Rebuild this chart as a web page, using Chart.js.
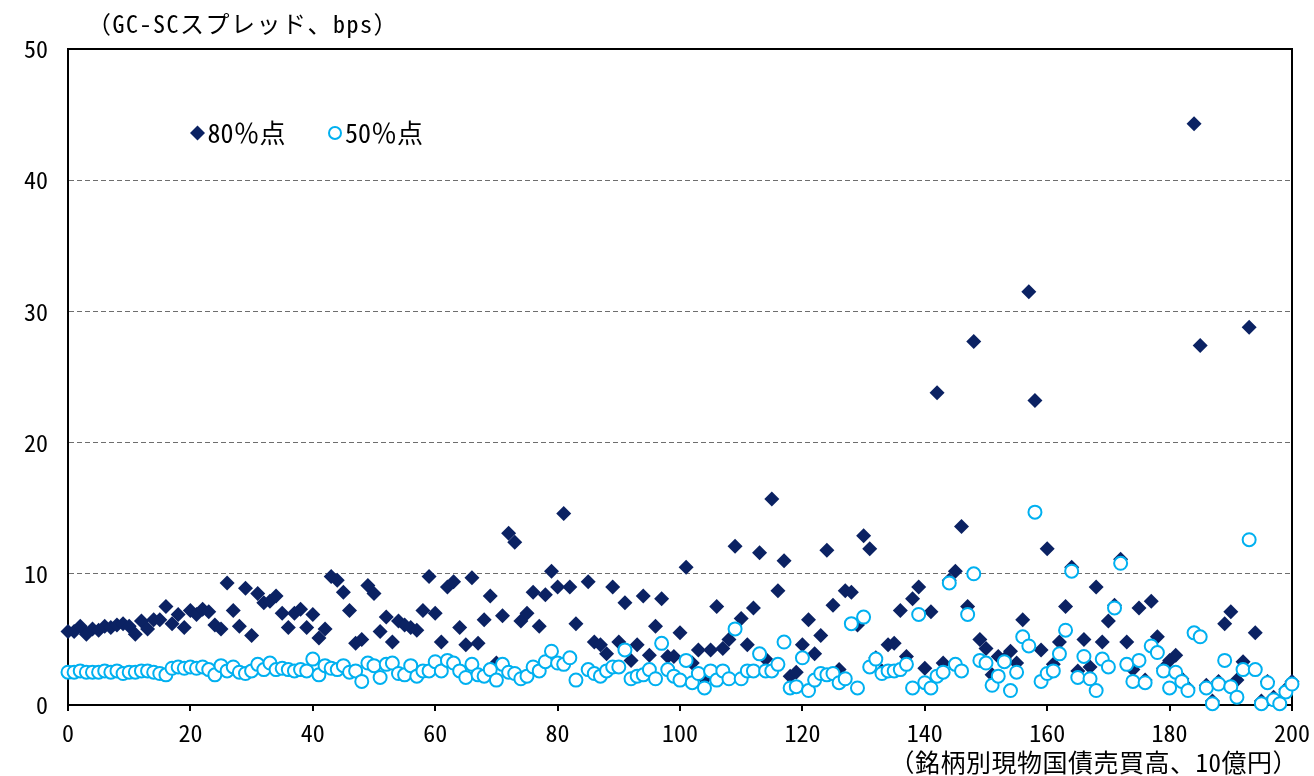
<!DOCTYPE html>
<html lang="ja">
<head>
<meta charset="utf-8">
<title>GC-SCスプレッドと銘柄別売買高</title>
<script src="https://cdn.jsdelivr.net/npm/chart.js"></script>
<style>
  html, body { margin: 0; padding: 0; background: #fff; }
  #wrap { width: 1314px; height: 776px; }
</style>
</head>
<body>
<div id="wrap"><canvas id="spread-chart" width="1314" height="776"></canvas></div>
<script>
// 銘柄別現物国債売買高（10億円）
var volume = [
  0, 1, 2, 3, 4, 5, 6, 7, 8, 9, 10, 11, 12, 13, 14, 15, 16, 17, 18, 19,
  20, 21, 22, 23, 24, 25, 26, 27, 28, 29, 30, 31, 32, 33, 34, 35, 36, 37, 38, 39,
  40, 41, 42, 43, 44, 45, 46, 47, 48, 49, 50, 51, 52, 53, 54, 55, 56, 57, 58, 59,
  60, 61, 62, 63, 64, 65, 66, 67, 68, 69, 70, 71, 72, 73, 74, 75, 76, 77, 78, 79,
  80, 81, 82, 83, 84, 85, 86, 87, 88, 89, 90, 91, 92, 93, 94, 95, 96, 97, 98, 99,
  100, 101, 102, 103, 104, 105, 106, 107, 108, 109, 110, 111, 112, 113, 114, 115, 116, 117, 118, 119,
  120, 121, 122, 123, 124, 125, 126, 127, 128, 129, 130, 131, 132, 133, 134, 135, 136, 137, 138, 139,
  140, 141, 142, 143, 144, 145, 146, 147, 148, 149, 150, 151, 152, 153, 154, 155, 156, 157, 158, 159,
  160, 161, 162, 163, 164, 165, 166, 167, 168, 169, 170, 171, 172, 173, 174, 175, 176, 177, 178, 179,
  180, 181, 182, 183, 184, 185, 186, 187, 188, 189, 190, 191, 192, 193, 194, 195, 196, 197, 198, 199,
  200
];

// 80%点 (bps)
var p80 = [
  5.6, 5.6, 6.0, 5.4, 5.8, 5.7, 6.0, 5.9, 6.1, 6.2,
  6.0, 5.4, 6.4, 5.8, 6.5, 6.5, 7.5, 6.2, 6.9, 5.9,
  7.2, 6.9, 7.3, 7.1, 6.1, 5.8, 9.3, 7.2, 6.0, 8.9,
  5.3, 8.5, 7.8, 7.9, 8.3, 7.0, 5.9, 7.0, 7.3, 5.9,
  6.9, 5.1, 5.8, 9.8, 9.5, 8.6, 7.2, 4.7, 5.0, 9.1,
  8.5, 5.6, 6.7, 4.8, 6.4, 6.1, 5.9, 5.7, 7.2, 9.8,
  7.0, 4.8, 9.0, 9.4, 5.9, 4.6, 9.7, 4.7, 6.5, 8.3,
  3.2, 6.8, 13.1, 12.4, 6.4, 7.0, 8.6, 6.0, 8.4, 10.2,
  9.0, 14.6, 9.0, 6.2, null, 9.4, 4.8, 4.6, 3.9, 9.0,
  4.8, 7.8, 3.4, 4.6, 8.3, 3.8, 6.0, 8.1, 3.7, 3.7,
  5.5, 10.5, 3.2, 4.2, 2.0, 4.2, 7.5, 4.3, 5.0, 12.1,
  6.6, 4.6, 7.4, 11.6, 3.5, 15.7, 8.7, 11.0, 2.2, 2.5,
  4.6, 6.5, 3.9, 5.3, 11.8, 7.6, 2.7, 8.7, 8.6, 6.1,
  12.9, 11.9, 3.6, 2.6, 4.6, 4.7, 7.2, 3.7, 8.1, 9.0,
  2.8, 7.1, 23.8, 3.2, 9.5, 10.2, 13.6, 7.5, 27.7, 5.0,
  4.3, 2.3, 3.7, 3.5, 4.1, 3.2, 6.5, 31.5, 23.2, 4.2,
  11.9, 3.1, 4.8, 7.5, 10.5, 2.6, 5.0, 2.9, 9.0, 4.8,
  6.4, 7.6, 11.1, 4.8, 2.7, 7.4, 1.9, 7.9, 5.2, 2.8,
  3.4, 3.8, 2.0, 1.3, 44.3, 27.4, 1.5, 0.3, 1.8, 6.2,
  7.1, 1.9, 3.3, 28.8, 5.5, 0.3, 1.8, 0.6, 0.2, 1.2,
  1.8
];

// 50%点 (bps)
var p50 = [
  2.5, 2.5, 2.6, 2.5, 2.5, 2.5, 2.6, 2.5, 2.6, 2.4,
  2.5, 2.5, 2.6, 2.6, 2.5, 2.4, 2.3, 2.8, 2.9, 2.8,
  2.9, 2.8, 2.9, 2.7, 2.3, 3.0, 2.6, 2.9, 2.5, 2.4,
  2.6, 3.1, 2.7, 3.2, 2.7, 2.8, 2.7, 2.6, 2.7, 2.6,
  3.5, 2.3, 3.0, 2.8, 2.7, 3.0, 2.5, 2.6, 1.8, 3.2,
  3.0, 2.1, 3.1, 3.2, 2.4, 2.3, 3.0, 2.2, 2.6, 2.6,
  3.3, 2.6, 3.4, 3.2, 2.6, 2.1, 3.1, 2.3, 2.2, 2.7,
  1.9, 3.1, 2.5, 2.4, 2.0, 2.2, 2.9, 2.6, 3.3, 4.1,
  3.2, 3.1, 3.6, 1.9, null, 2.7, 2.4, 2.2, 2.6, 2.9,
  2.9, 4.2, 2.0, 2.2, 2.3, 2.7, 2.0, 4.7, 2.7, 2.2,
  1.9, 3.4, 1.7, 2.4, 1.3, 2.6, 1.9, 2.6, 2.0, 5.8,
  2.0, 2.6, 2.6, 3.9, 2.6, 2.6, 3.1, 4.8, 1.3, 1.4,
  3.6, 1.1, 1.9, 2.4, 2.3, 2.4, 1.7, 2.0, 6.2, 1.3,
  6.7, 2.9, 3.5, 2.4, 2.6, 2.6, 2.7, 3.1, 1.3, 6.9,
  1.7, 1.3, 2.2, 2.5, 9.3, 3.1, 2.6, 6.9, 10.0, 3.4,
  3.2, 1.5, 2.2, 3.3, 1.1, 2.5, 5.2, 4.5, 14.7, 1.8,
  2.4, 2.6, 3.9, 5.7, 10.2, 2.1, 3.7, 2.0, 1.1, 3.5,
  2.9, 7.4, 10.8, 3.1, 1.8, 3.4, 1.7, 4.5, 4.0, 2.6,
  1.3, 2.5, 1.8, 1.1, 5.5, 5.2, 1.3, 0.1, 1.6, 3.4,
  1.4, 0.6, 2.7, 12.6, 2.7, 0.1, 1.7, 0.4, 0.1, 1.0,
  1.6
];

var seriesNames = ['80％点', '50％点'];
var xTicks = [0, 20, 40, 60, 80, 100, 120, 140, 160, 180, 200];
var yTicks = [0, 10, 20, 30, 40, 50];
var yTitle = '（GC-SCスプレッド、bps）';
var xTitle = '（銘柄別現物国債売買高、10億円）';

var NAVY = '#0b2263';
var SKY = '#00b0f0';
var FONT = '"Noto Sans Mono CJK JP", "Noto Sans CJK JP", "Noto Sans", sans-serif';

function toPoints(values) {
  return volume.map(function(v, i) { return { x: v, y: values[i] }; });
}

// frame around the plot area, axis captions and the in-plot legend
var overlay = {
  id: 'overlay',
  beforeDatasetsDraw: function(chart) {
    var a = chart.chartArea, ctx = chart.ctx;
    ctx.save();
    ctx.strokeStyle = '#000';
    ctx.lineWidth = 2;
    ctx.strokeRect(a.left, a.top, a.right - a.left, a.bottom - a.top);
    ctx.restore();
  },
  afterDraw: function(chart) {
    var a = chart.chartArea, ctx = chart.ctx;
    ctx.save();
    ctx.fillStyle = '#000';
    ctx.textBaseline = 'middle';

    // y caption above the plot, x caption under the tick labels
    ctx.font = '24px ' + FONT;
    ctx.letterSpacing = '1.5px';
    ctx.textAlign = 'left';
    ctx.fillText(yTitle, a.left + 19, a.top - 25);
    ctx.font = '25px ' + FONT;
    ctx.letterSpacing = '0.5px';
    ctx.textAlign = 'right';
    ctx.fillText(xTitle, a.right + 6, a.bottom + 57);
    ctx.letterSpacing = '0px';

    var ly = a.top + 84;
    ctx.font = '26px ' + FONT;
    ctx.textAlign = 'left';
    var dx = a.left + 129.5;
    ctx.fillStyle = NAVY;
    ctx.beginPath();
    ctx.moveTo(dx, ly - 7.5);
    ctx.lineTo(dx + 7.5, ly);
    ctx.lineTo(dx, ly + 7.5);
    ctx.lineTo(dx - 7.5, ly);
    ctx.closePath();
    ctx.fill();
    ctx.fillStyle = '#000';
    ctx.fillText(seriesNames[0], dx + 10, ly);

    var cx = a.left + 267;
    ctx.strokeStyle = SKY;
    ctx.lineWidth = 2;
    ctx.beginPath();
    ctx.arc(cx, ly, 6, 0, Math.PI * 2);
    ctx.stroke();
    ctx.fillText(seriesNames[1], cx + 10, ly);
    ctx.restore();
  }
};

var ctx = document.getElementById('spread-chart').getContext('2d');
var spreadChart = new Chart(ctx, {
  type: 'scatter',
  data: {
    datasets: [{
      label: seriesNames[0],
      data: toPoints(p80),
      pointStyle: 'rectRot',
      pointRadius: 7.5,
      pointBackgroundColor: NAVY,
      pointBorderColor: NAVY,
      pointBorderWidth: 0,
      order: 2,
      clip: false
    }, {
      label: seriesNames[1],
      data: toPoints(p50),
      pointStyle: 'circle',
      pointRadius: 6.5,
      pointBackgroundColor: '#fff',
      pointBorderColor: SKY,
      pointBorderWidth: 2,
      order: 1,
      clip: false
    }]
  },
  options: {
    responsive: false,
    animation: false,
    layout: { padding: { top: 49, right: 22, left: 0, bottom: 0 } },
    plugins: {
      legend: { display: false },
      tooltip: { enabled: false }
    },
    scales: {
      x: {
        type: 'linear',
        min: 0,
        max: 200,
        afterBuildTicks: function(s) { s.ticks = xTicks.map(function(v) { return { value: v }; }); },
        afterFit: function(s) {
          s.height = 71;
          s.paddingLeft = 0;
          s.paddingRight = 0;
        },
        grid: { drawOnChartArea: false, drawTicks: true, tickLength: 6, color: '#000', lineWidth: 2 },
        border: { color: '#000', width: 2 },
        ticks: { color: '#000', padding: 7, maxRotation: 0, font: { family: FONT, size: 24 } }
      },
      y: {
        min: 0,
        max: 50,
        afterBuildTicks: function(s) { s.ticks = yTicks.map(function(v) { return { value: v }; }); },
        afterFit: function(s) { s.width = 68; },
        grid: {
          drawTicks: false,
          lineWidth: 1,
          color: function(c) {
            var v = c.tick ? c.tick.value : null;
            return (v === 0 || v === 50) ? 'rgba(0,0,0,0)' : '#6e6e6e';
          }
        },
        border: { color: '#000', width: 2, dash: [5, 3] },
        ticks: { color: '#000', padding: 20, font: { family: FONT, size: 24 } }
      }
    }
  },
  plugins: [overlay]
});
</script>
</body>
</html>
